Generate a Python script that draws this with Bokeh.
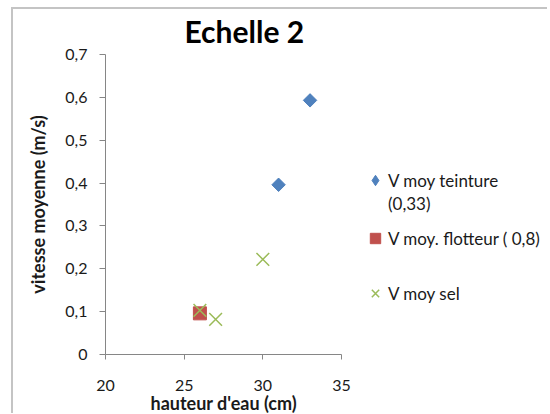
from bokeh.plotting import figure
from bokeh.models import FixedTicker, CustomJSTickFormatter, Legend, LegendItem, Range1d, Title
from bokeh.embed import file_html
from bokeh.resources import INLINE

# data
x_teinture = [31, 33]
v_teinture = [0.396, 0.593]
x_flotteur = [26]
v_flotteur = [0.096]
x_sel = [26, 27, 30]
v_sel = [0.103, 0.082, 0.222]

x_ticks = [20, 25, 30, 35]
y_ticks = [0, 0.1, 0.2, 0.3, 0.4, 0.5, 0.6, 0.7]
x_min, x_max = 20, 35
y_min, y_max = 0, 0.7

title_text = "Echelle 2"
x_label = "hauteur d'eau (cm)"
y_label = "vitesse moyenne (m/s)"
leg_teinture = "V moy teinture"
leg_teinture2 = "(0,33)"
leg_flotteur = "V moy. flotteur ( 0,8)"
leg_sel = "V moy sel"

FONT = "Lato"
TXT = "#1a1a1a"
AX = "#868686"
EDGE = "#c4c4c4"
BLUE, RED, GREEN = "#4f81bd", "#c0504d", "#9bbb59"

W, H = 536, 413
LEFT, TOP, BOTTOM = 94, 54, 59
AXIS_PX = 236                      # pixel length of the x axis (20..35)
frame_w = W - LEFT
x_view_end = x_min + (x_max - x_min) * frame_w / AXIS_PX   # room on the right for the legend

p = figure(width=W, height=H, output_backend="svg", toolbar_location=None,
           x_range=Range1d(x_min, x_view_end), y_range=Range1d(y_min, y_max),
           min_border_left=LEFT, min_border_right=0, min_border_top=TOP, min_border_bottom=BOTTOM)
p.border_fill_alpha = 0
p.styles = {
    "margin-left": "11px",
    "background": (f"linear-gradient({EDGE},{EDGE}) 0 7px / 100% 2px no-repeat, "
                   f"linear-gradient({EDGE},{EDGE}) 0 7px / 2px 100% no-repeat, white"),
}

p.title.text = title_text
p.title.align = "left"
p.title.offset = 79
p.title.standoff = 11
p.title.text_font = FONT
p.title.text_font_size = "30px"
p.title.text_font_style = "bold"
p.title.text_color = "black"

p.outline_line_color = None
p.grid.visible = False

p.xaxis.ticker = FixedTicker(ticks=x_ticks)
p.xaxis.bounds = (x_min, x_max)
p.yaxis.ticker = FixedTicker(ticks=y_ticks)
p.yaxis.formatter = CustomJSTickFormatter(code="return tick === 0 ? '0' : tick.toFixed(1).replace('.', ',');")
for ax in (p.xaxis, p.yaxis):
    ax.axis_line_color = AX
    ax.major_tick_line_color = AX
    ax.minor_tick_line_color = None
    ax.major_tick_in = 0
    ax.major_tick_out = 6
    ax.major_label_text_font = FONT
    ax.major_label_text_font_size = "16px"
    ax.major_label_text_color = TXT
    ax.axis_label_text_font = FONT
    ax.axis_label_text_font_size = "18px"
    ax.axis_label_text_font_style = "bold"
    ax.axis_label_text_color = TXT
p.xaxis.major_tick_out = 5
p.yaxis.axis_label = y_label
p.xaxis.major_label_standoff = 20
p.yaxis.major_label_standoff = 12
p.yaxis.axis_label_standoff = 13

x_title = Title(text=x_label, align="left", offset=45, vertical_align="top", standoff=-4,
                text_font=FONT, text_font_size="18px", text_font_style="bold", text_color=TXT)
p.add_layout(x_title, "below")

# legend key for the first series (a diamond), hidden under the data markers
r_t_key = p.scatter(x_teinture, v_teinture, marker="diamond", size=12,
                    fill_color=BLUE, line_color=BLUE)
r_t = p.scatter(x_teinture, v_teinture, marker="square", angle=0.785398, size=9.5,
                fill_color=BLUE, line_color=BLUE)
r_f = p.scatter(x_flotteur, v_flotteur, marker="square", size=13,
                fill_color=RED, line_color=RED)
r_s = p.scatter(x_sel, v_sel, marker="x", size=18, line_color=GREEN, line_width=1.5)
r_blank = p.scatter([], [], marker="square", fill_alpha=0, line_alpha=0)


def mk_legend(label, rend, y):
    lg = Legend(items=[LegendItem(label=label, renderers=[rend])], location=(257, y),
                padding=0, margin=0, border_line_color=None, background_fill_alpha=0,
                label_text_font=FONT, label_text_font_size="17px", label_text_color=TXT,
                glyph_width=26, glyph_height=26, label_height=26, label_standoff=0)
    p.add_layout(lg, "center")


mk_legend(leg_teinture, r_t_key, 161)
mk_legend(leg_teinture2, r_blank, 138)
mk_legend(leg_flotteur, r_f, 103)
mk_legend(leg_sel, r_s, 48)

open("out.html", "w").write(file_html(p, INLINE))
